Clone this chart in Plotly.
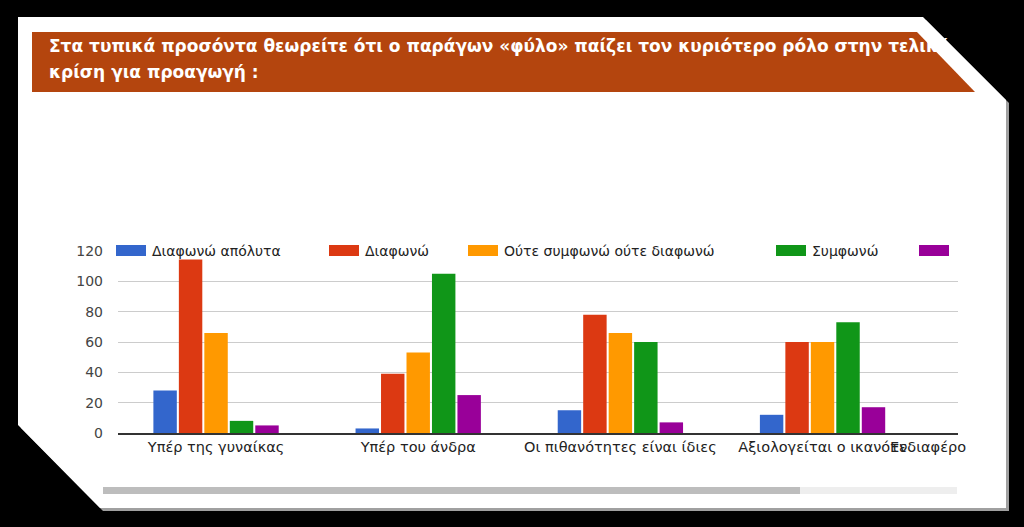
import plotly.graph_objects as go

# survey answers per option
categories = ["Υπέρ της γυναίκας", "Υπέρ του άνδρα", "Οι πιθανότητες είναι ίδιες",
              "Αξιολογείται ο ικανότερος"]
tick_labels = ["Υπέρ της γυναίκας", "Υπέρ του άνδρα", "Οι πιθανότητες είναι ίδιες",
               "Αξιολογείται ο ικανότε"]
hidden_label = "Ενδιαφέρο"   # 5th category, scrolled off to the right

series_names = ["Διαφωνώ απόλυτα", "Διαφωνώ", "Ούτε συμφωνώ ούτε διαφωνώ",
                "Συμφωνώ", "Συμφωνώ απόλυτα"]
disagree_full = [28, 3, 15, 12]
disagree = [116, 39, 78, 60]
neutral = [66, 53, 66, 60]
agree = [8, 105, 60, 73]
agree_full = [5, 25, 7, 17]
values = [disagree_full, disagree, neutral, agree, agree_full]

colors = ["#3366cc", "#dc3912", "#ff9900", "#109618", "#990099"]

# white text: the part past the banner's slanted edge disappears on the white card
title_1 = "Στα τυπικά προσόντα θεωρείτε ότι ο παράγων «φύλο» παίζει τον κυριότερο ρόλο στην τελική"
title_2 = "κρίση για προαγωγή :"

W, H = 1024, 527
L, R, T, B = 118, 958, 251, 433


def px(x):
    return (x - L) / (R - L)


def py(y):
    return (B - y) / (B - T)


def poly(pts):
    return "M " + " L ".join(f"{px(x):.5f},{py(y):.5f}" for x, y in pts) + " Z"


fig = go.Figure()
for name, vals, col in zip(series_names, values, colors):
    fig.add_trace(go.Bar(x=categories, y=vals, name=name, marker_color=col,
                         marker_line_width=0, showlegend=False))

shapes = []
# card shadow + white card
card = [(18, 17), (923, 17), (1006, 100), (1006, 508), (100, 508), (18, 425)]
shapes.append(dict(type="path", xref="paper", yref="paper", layer="below",
                   path=poly([(x + 3, y + 3) for x, y in card]),
                   fillcolor="#a0a0a0", line_width=0))
shapes.append(dict(type="path", xref="paper", yref="paper", layer="below",
                   path=poly(card), fillcolor="white", line_width=0))
# title banner
shapes.append(dict(type="path", xref="paper", yref="paper", layer="below",
                   path=poly([(32, 32), (917, 32), (975, 92), (32, 92)]),
                   fillcolor="#b4450e", line_width=0))
# scrollbar
shapes.append(dict(type="rect", xref="paper", yref="paper", layer="below",
                   x0=px(800), x1=px(957), y0=py(494), y1=py(487),
                   fillcolor="#eeeeee", line_width=0))
shapes.append(dict(type="rect", xref="paper", yref="paper", layer="below",
                   x0=px(103), x1=px(800), y0=py(494), y1=py(487),
                   fillcolor="#bdbdbd", line_width=0))

title_font = dict(family="DejaVu Sans", size=17, color="white", weight="bold")
annotations = [
    dict(text=title_1, x=px(47), y=py(46), xref="paper", yref="paper",
         xanchor="left", yanchor="middle", showarrow=False, font=title_font),
    dict(text=title_2, x=px(47), y=py(72), xref="paper", yref="paper",
         xanchor="left", yanchor="middle", showarrow=False, font=title_font),
    dict(text=hidden_label, x=px(888), y=py(447), xref="paper", yref="paper",
         xanchor="left", yanchor="middle", showarrow=False,
         font=dict(family="DejaVu Sans", size=14.5, color="#222222")),
]

# legend drawn along the top gridline, the last label is cut off by the scroll area
legend_x = [116, 329, 468, 776, 919]
for i, (name, col) in enumerate(zip(series_names, colors)):
    x0 = legend_x[i]
    shapes.append(dict(type="rect", xref="paper", yref="paper", layer="above",
                       x0=px(x0), x1=px(x0 + 30), y0=py(256), y1=py(245),
                       fillcolor=col, line_width=0))
    if i < 4:
        annotations.append(dict(text=name, x=px(x0 + 35), y=py(250.5),
                                xref="paper", yref="paper", xanchor="left",
                                yanchor="middle", showarrow=False,
                                bgcolor="white", borderpad=0,
                                font=dict(family="DejaVu Sans", size=14,
                                          color="#222222")))

fig.update_layout(
    width=W, height=H,
    margin=dict(l=L, r=W - R, t=T, b=H - B),
    paper_bgcolor="black",
    plot_bgcolor="rgba(0,0,0,0)",
    barmode="group", bargap=0.37, bargroupgap=0.08,
    shapes=shapes, annotations=annotations,
    font=dict(family="DejaVu Sans", color="#444444"),
)
fig.update_xaxes(range=[-0.485, 3.67], tickvals=categories, ticktext=tick_labels,
                 tickfont=dict(size=14.5, color="#222222"), showgrid=False,
                 showline=True, linecolor="#333333", linewidth=1.5)
fig.update_yaxes(range=[0, 120], dtick=20, gridcolor="#cccccc", zeroline=False,
                 tickfont=dict(size=14, color="#444444"), ticklabelstandoff=14)

fig.write_html("out.html", config={"displayModeBar": False},
               post_script="document.body.style.margin='0';"
                           "document.body.style.background='black';")
